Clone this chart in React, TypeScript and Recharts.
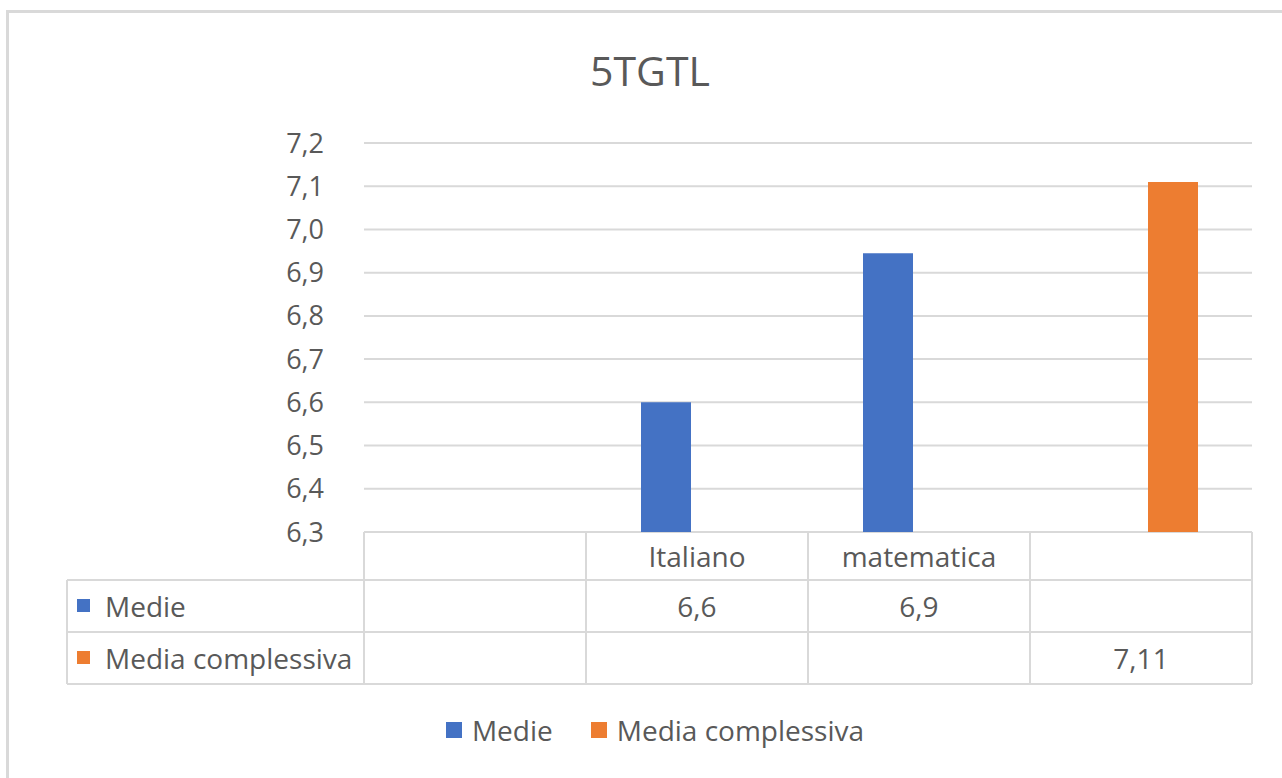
import React from "react";
import { BarChart, Bar, XAxis, YAxis, CartesianGrid, Legend } from "recharts";

const categories = ["", "Italiano", "matematica", ""];
const medie: (number | null)[] = [null, 6.6, 6.945, null];
const mediaComplessiva: (number | null)[] = [null, null, null, 7.11];
const yTicks = [6.3, 6.4, 6.5, 6.6, 6.7, 6.8, 6.9, 7.0, 7.1, 7.2];

const SERIES = [
  { key: "medie", name: "Medie", color: "#4472C4", values: medie, digits: 1 },
  { key: "complessiva", name: "Media complessiva", color: "#ED7D31", values: mediaComplessiva, digits: 2 },
];

const data = categories.map((name, i) => ({
  id: `c${i}`,
  name,
  medie: medie[i],
  complessiva: mediaComplessiva[i],
}));

const FONT = "'Open Sans', sans-serif";
const TEXT = "#595959";
const LINE = "#d9d9d9";

const W = 1282;
const H = 778;
const MARGIN = { top: 143, right: 30, left: 284, bottom: 86 };
const Y_AXIS_W = 80;
const BAND = (W - MARGIN.left - Y_AXIS_W - MARGIN.right) / categories.length;
const ROWS = [0, 48, 100, 152];
const HEADER_W = 297;

const fmt = (v: number | null, digits: number) =>
  v == null ? "" : v.toFixed(digits).replace(".", ",");

function TableTick(props: any) {
  const { x, y, index } = props;
  const left = x - BAND / 2;
  const right = x + BAND / 2;
  const txt = { fontFamily: FONT, fontSize: 28, fill: TEXT };
  return (
    <g>
      <line x1={left} y1={y} x2={left} y2={y + ROWS[3]} stroke={LINE} strokeWidth={2} />
      {index === categories.length - 1 && (
        <line x1={right} y1={y} x2={right} y2={y + ROWS[3]} stroke={LINE} strokeWidth={2} />
      )}
      {ROWS.slice(1).map((r) => (
        <line key={r} x1={left} y1={y + r} x2={right} y2={y + r} stroke={LINE} strokeWidth={2} />
      ))}
      <text x={x} y={y + (ROWS[0] + ROWS[1]) / 2} textAnchor="middle" dominantBaseline="central" {...txt}>
        {categories[index]}
      </text>
      {SERIES.map((s, si) => (
        <text
          key={s.key}
          x={x}
          y={y + (ROWS[si + 1] + ROWS[si + 2]) / 2}
          textAnchor="middle"
          dominantBaseline="central"
          {...txt}
        >
          {fmt(s.values[index], s.digits)}
        </text>
      ))}
      {index === 0 && (
        <g>
          <line x1={left - HEADER_W} y1={y + ROWS[1]} x2={left - HEADER_W} y2={y + ROWS[3]} stroke={LINE} strokeWidth={2} />
          {ROWS.slice(1).map((r) => (
            <line key={r} x1={left - HEADER_W} y1={y + r} x2={left} y2={y + r} stroke={LINE} strokeWidth={2} />
          ))}
          {SERIES.map((s, si) => {
            const cy = y + (ROWS[si + 1] + ROWS[si + 2]) / 2;
            return (
              <g key={s.key}>
                <rect x={left - HEADER_W + 10} y={cy - 7} width={13} height={13} fill={s.color} />
                <text x={left - HEADER_W + 38} y={cy} dominantBaseline="central" {...txt}>
                  {s.name}
                </text>
              </g>
            );
          })}
        </g>
      )}
    </g>
  );
}

function LegendContent() {
  return (
    <div style={{ display: "flex", justifyContent: "center", alignItems: "center", fontFamily: FONT, fontSize: 28, color: TEXT }}>
      {SERIES.map((s) => (
        <div key={s.key} style={{ display: "flex", alignItems: "center", margin: "0 19px" }}>
          <span style={{ display: "inline-block", width: 16, height: 16, background: s.color, marginRight: 10 }} />
          <span>{s.name}</span>
        </div>
      ))}
    </div>
  );
}

export default function App() {
  return (
    <div style={{ position: "absolute", left: 0, top: 0, width: W, height: H, overflow: "hidden", background: "#fff" }}>
      <div
        style={{
          position: "absolute",
          left: 6,
          top: 10,
          width: W + 20,
          height: H + 20,
          border: `3px solid ${LINE}`,
          boxSizing: "border-box",
        }}
      />
      <div
        style={{
          position: "absolute",
          left: 0,
          top: 50,
          width: 1300,
          textAlign: "center",
          fontFamily: FONT,
          fontSize: 41,
          lineHeight: "41px",
          color: TEXT,
        }}
      >
        5TGTL
      </div>
      <div style={{ position: "absolute", left: 0, top: 0 }}>
        <BarChart width={W} height={H} data={data} margin={MARGIN} barSize={50} barGap={13}>
          <CartesianGrid vertical={false} stroke={LINE} strokeWidth={2} />
          <XAxis
            dataKey="id"
            height={160}
            interval={0}
            axisLine={false}
            tickLine={false}
            tickSize={0}
            tickMargin={0}
            tick={<TableTick />}
          />
          <YAxis
            width={Y_AXIS_W}
            domain={[6.3, 7.2]}
            ticks={yTicks}
            interval={0}
            axisLine={false}
            tickLine={false}
            tickSize={0}
            tickMargin={40}
            tickFormatter={(v: number) => v.toFixed(1).replace(".", ",")}
            tick={{ fill: TEXT, fontSize: 27, fontFamily: FONT }}
          />
          <Legend
            layout="horizontal"
            align="center"
            verticalAlign="middle"
            wrapperStyle={{ left: 0, top: 711, width: 1310 }}
            content={<LegendContent />}
          />
          {SERIES.map((s) => (
            <Bar key={s.key} dataKey={s.key} name={s.name} fill={s.color} isAnimationActive={false} />
          ))}
        </BarChart>
      </div>
    </div>
  );
}
